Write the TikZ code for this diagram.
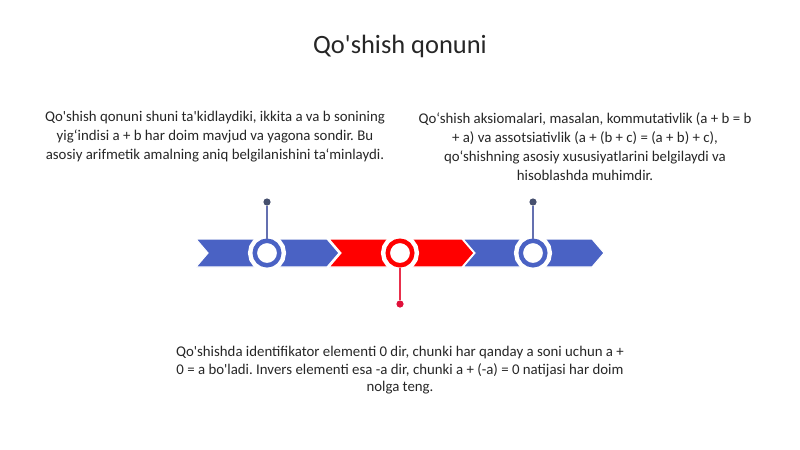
\documentclass[tikz,border=0pt]{standalone}
\usepackage{fontspec}
\setmainfont{Carlito}[Ligatures=TeXOff]
\usetikzlibrary{positioning}
\frenchspacing

\definecolor{segblue}{HTML}{4A62C4}
\definecolor{segred}{HTML}{FF0000}
\definecolor{stemblue}{HTML}{6470B0}
\definecolor{dotblue}{HTML}{46506E}
\definecolor{stemred}{HTML}{E8304C}
\definecolor{dotred}{HTML}{E0103A}

\begin{document}
\begin{tikzpicture}[x=0.025cm,y=-0.025cm,
    ring/.style={circle,minimum size=0.6125cm,inner sep=0pt,line width=0.1125cm,fill=white,
                 preaction={draw=white,line width=0.3375cm}},
    pin/.style={circle,minimum size=0.18cm,inner sep=0pt},
    note/.style={align=center,font=\fontsize{10.55}{13.5}\selectfont\frenchspacing,text=black!85}]

            %\draw [help lines] (0,0) grid (800,449);
            \useasboundingbox (0,0) rectangle (800,449);

            \node (title) at (400,46) [text=black!85] {\fontsize{18.8}{22}\selectfont Qo'shish qonuni};

            \fill[segblue,draw=white,line width=0.8pt] (196,239) -- (327,239) -- (339,253) -- (327,267) -- (196,267) -- (208,253) -- cycle;
            \fill[segred,draw=white,line width=0.8pt] (329,239) -- (462,239) -- (474,253) -- (462,267) -- (329,267) -- (341,253) -- cycle;
            \fill[segblue,draw=white,line width=0.8pt] (463,239) -- (592,239) -- (604,253) -- (592,267) -- (463,267) -- (475,253) -- cycle;

            \path   (267,253) node (r1) [ring,draw=segblue] {}
                    (400,253) node (r2) [ring,draw=segred] {}
                    (533,253) node (r3) [ring,draw=segblue] {}
                    (267,202) node (p1) [pin,fill=dotblue] {}
                    (400,304) node (p2) [pin,fill=dotred] {}
                    (533,202) node (p3) [pin,fill=dotblue] {};

            \draw[stemblue,line width=0.9pt] (node cs: name =r1 ) -- (node cs:name =p1);
            \draw[stemred,line width=0.9pt] (node cs: name =r2 ) -- (node cs:name =p2);
            \draw[stemblue,line width=0.9pt] (node cs: name =r3 ) -- (node cs:name =p3);

            \path   (215,137) node (left) [note] {Qo'shish qonuni shuni ta'kidlaydiki, ikkita a va b sonining\\ yig‘indisi a + b har doim mavjud va yagona sondir. Bu\\ asosiy arifmetik amalning aniq belgilanishini ta‘minlaydi.}
                    (585,146.5) node (right) [note] {Qo‘shish aksiomalari, masalan, kommutativlik (a + b = b\\ + a) va assotsiativlik (a + (b + c) = (a + b) + c),\\ qo‘shishning asosiy xususiyatlarini belgilaydi va\\ hisoblashda muhimdir.}
                    (400,370.5) node (bottom) [note,font=\fontsize{10.55}{12.4}\selectfont\frenchspacing] {Qo'shishda identifikator elementi 0 dir, chunki har qanday a soni uchun a +\\ 0 = a bo'ladi. Invers elementi esa -a dir, chunki a + (-a) = 0 natijasi har doim\\ nolga teng.};
        \end{tikzpicture}
\end{document}
